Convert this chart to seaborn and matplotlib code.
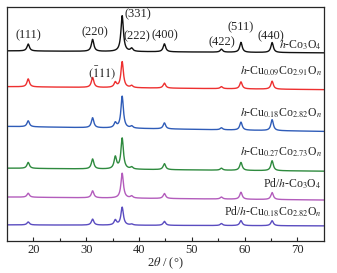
#!/usr/bin/env python3

import numpy as np
import pandas as pd
import seaborn as sns
import matplotlib.pyplot as plt

# sample names (legend order top -> bottom)
samples = ["h-Co3O4", "h-Cu0.09", "h-Cu0.18", "h-Cu0.27", "Pd/h-Co3O4", "Pd/h-Cu0.18"]
labels = [r"$h$-Co$_3$O$_4$",
          r"$h$-Cu$_{0.09}$Co$_{2.91}$O$_n$",
          r"$h$-Cu$_{0.18}$Co$_{2.82}$O$_n$",
          r"$h$-Cu$_{0.27}$Co$_{2.73}$O$_n$",
          r"Pd/$h$-Co$_3$O$_4$",
          r"Pd/$h$-Cu$_{0.18}$Co$_{2.82}$O$_n$"]
colors = ["#111111", "#ee3030", "#2f5cb8", "#2e8a3e", "#b35cbc", "#5a4cc0"]

# baseline level (stacked offsets, arbitrary units) at 15 deg and 75 deg
base_left = [191, 155, 115, 73, 44, 16]
base_right = [189, 152, 110, 70, 41, 15]

# reflection positions (2theta, deg)
peak_pos = [19.0, 31.2, 35.5, 36.8, 38.6, 44.8, 55.6, 59.3, 65.2]
# peak heights for each sample, same order as peak_pos
peak_h = {
    "h-Co3O4":     [7, 12, 0, 36, 3, 8, 3, 10, 10],
    "h-Cu0.09":    [8, 10, 5, 26, 2, 5, 2, 7, 8],
    "h-Cu0.18":    [6, 10, 5, 32, 2, 6, 2, 8, 11],
    "h-Cu0.27":    [6, 10, 12, 31, 2, 6, 2, 8, 10],
    "Pd/h-Co3O4":  [4, 7, 0, 25, 2, 5, 2, 7, 7],
    "Pd/h-Cu0.18": [3, 6, 5, 18, 1, 4, 2, 5, 5],
}

hkl = ["(111)", "(220)", "(331)", "(222)", "(400)", "(422)", "(511)", "(440)"]
hkl_x = [19.0, 31.7, 39.8, 39.6, 44.9, 55.7, 59.3, 64.9]
hkl_y = [207, 210, 228, 206, 207, 200, 215, 206]
label_y = [197, 171, 128, 89, 57, 29]

two_theta = np.arange(15, 75.01, 0.04)
width = 0.28

frames = []
for i, s in enumerate(samples):
    y = base_left[i] + (base_right[i] - base_left[i]) * (two_theta - 15) / 60
    for p, h in zip(peak_pos, peak_h[s]):
        y = y + h / (1 + ((two_theta - p) / width) ** 2)
    frames.append(pd.DataFrame({"two_theta": two_theta, "intensity": y, "sample": s}))
df = pd.concat(frames)

sns.set_style("ticks")
plt.rcParams["font.family"] = ["Liberation Serif", "DejaVu Serif"]
plt.rcParams["mathtext.fontset"] = "stix"
plt.rcParams["font.size"] = 9

fig, ax = plt.subplots(figsize=(3.37, 2.73), dpi=100)
sns.lineplot(data=df, x="two_theta", y="intensity", hue="sample",
             palette=dict(zip(samples, colors)), estimator=None, sort=False,
             linewidth=1.0, legend=False, ax=ax)

for t, x, y in zip(hkl, hkl_x, hkl_y):
    ax.text(x, y, t, ha="center", va="center", fontsize=9)
ax.text(33.0, 169, r"$(\bar{1}11)$", ha="center", va="center", fontsize=9)
for lab, y in zip(labels, label_y):
    ax.text(74.6, y, lab, ha="right", va="center", fontsize=8.5)

ax.set_xlim(15, 75)
ax.set_ylim(0, 235)
ax.set_yticks([])
ax.set_xticks([20, 30, 40, 50, 60, 70])
ax.set_xticks([25, 35, 45, 55, 65], minor=True)
ax.tick_params(axis="x", direction="in", length=3, width=0.8, labelsize=9, pad=2)
ax.tick_params(axis="x", which="minor", direction="in", length=2, width=0.8)
ax.set_xlabel(r"2$\theta$ / (°)", fontsize=9, labelpad=0)
ax.set_ylabel("")
for sp in ax.spines.values():
    sp.set_linewidth(0.9)

fig.subplots_adjust(left=0.021, right=0.961, top=0.974, bottom=0.118)
fig.savefig("out.png", dpi=100)
